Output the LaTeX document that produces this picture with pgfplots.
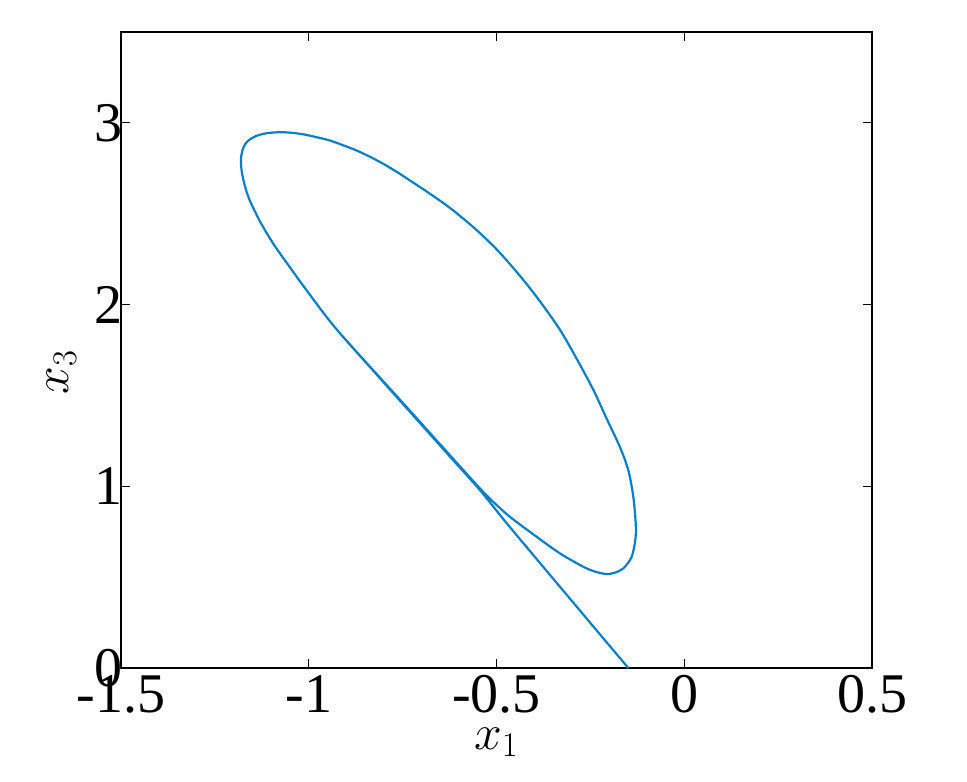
\documentclass[border=0pt]{standalone}
\usepackage{fontspec}
\setmainfont{Liberation Serif}
\usepackage{pgfplots}
\pgfplotsset{compat=1.18}
\definecolor{trajblue}{RGB}{8,127,198}
\begin{document}
\begin{tikzpicture}
\begin{axis}[
    scale only axis,
    width=375.5pt, height=318pt,
    xmin=-1.5, xmax=0.5, ymin=0, ymax=3.5,
    xtick={-1.5,-1,-0.5,0,0.5},
    ytick={0,1,2,3},
    tick align=inside,
    tick pos=both,
    major tick length=4.5pt,
    axis line style={line width=0.6pt},
    every tick/.style={black, line width=0.6pt},
    /pgf/number format/assume math mode=true,
    ticklabel style={font=\fontsize{28}{32}\selectfont},
    yticklabel style={xshift=4.5pt},
    xlabel={$x_1$}, ylabel={$x_3$},
    label style={font=\fontsize{26}{30}\selectfont},
    xlabel style={at={(axis description cs:0.5,-0.117)}, anchor=center},
    ylabel style={at={(axis description cs:-0.079,0.465)}, anchor=center},
    ]
% trajectory: comes in from the bottom, then settles on the loop
\addplot[trajblue, line width=1.1pt, smooth, tension=0.5] coordinates {
(-0.1490,0.0000) (-0.2156,0.1633) (-0.2822,0.3271) (-0.3487,0.4904) (-0.4108,0.6432)
(-0.4774,0.8081) (-0.5439,0.9786) (-0.6105,1.1325) (-0.6771,1.2864) (-0.7437,1.4403)
(-0.8103,1.5943) (-0.8768,1.7482) (-0.9115,1.8290) (-0.9434,1.9076) (-0.9700,1.9791)
(-0.9967,2.0533) (-1.0233,2.1275) (-1.0499,2.2045) (-1.0739,2.2732) (-1.0944,2.3348)
(-1.1139,2.3997) (-1.1298,2.4574) (-1.1445,2.5179) (-1.1565,2.5701) (-1.1658,2.6223)
(-1.1724,2.6718) (-1.1778,2.7240) (-1.1804,2.7735) (-1.1799,2.8147) (-1.1751,2.8587)
(-1.1671,2.8889) (-1.1565,2.9093) (-1.1405,2.9274) (-1.1210,2.9395) (-1.0952,2.9467)
(-1.0678,2.9483) (-1.0419,2.9445) (-1.0145,2.9368) (-0.9807,2.9219) (-0.9434,2.9027)
(-0.9088,2.8768) (-0.8723,2.8477) (-0.8369,2.8131) (-0.8015,2.7746) (-0.7658,2.7306)
(-0.7304,2.6828) (-0.6771,2.6097) (-0.6238,2.5316) (-0.5618,2.4261) (-0.4995,2.3035)
(-0.4374,2.1578) (-0.3842,2.0176) (-0.3309,1.8609) (-0.2864,1.7015) (-0.2422,1.5311)
(-0.2065,1.3716) (-0.1711,1.2149) (-0.1490,1.0885) (-0.1357,0.9428) (-0.1293,0.7971)
(-0.1298,0.7147) (-0.1399,0.6119) (-0.1623,0.5481) (-0.1844,0.5250) (-0.2065,0.5168)
(-0.2377,0.5305) (-0.2688,0.5569) (-0.3309,0.6306) (-0.3929,0.7218) (-0.4641,0.8318)
(-0.5120,0.9208) (-0.5439,0.9879) (-0.5772,1.0638) (-0.6105,1.1396) (-0.6771,1.2930)
(-0.7437,1.4458) (-0.8103,1.5976) (-0.8768,1.7493) (-0.9115,1.8295)
};
\coordinate (bl) at (rel axis cs:0,0);
\coordinate (tr) at (rel axis cs:1,1);
\end{axis}
\pgfresetboundingbox
\useasboundingbox ([shift={(-60.5pt,-56.5pt)}]bl) rectangle ([shift={(47.5pt,16pt)}]tr);
\end{tikzpicture}
\end{document}
